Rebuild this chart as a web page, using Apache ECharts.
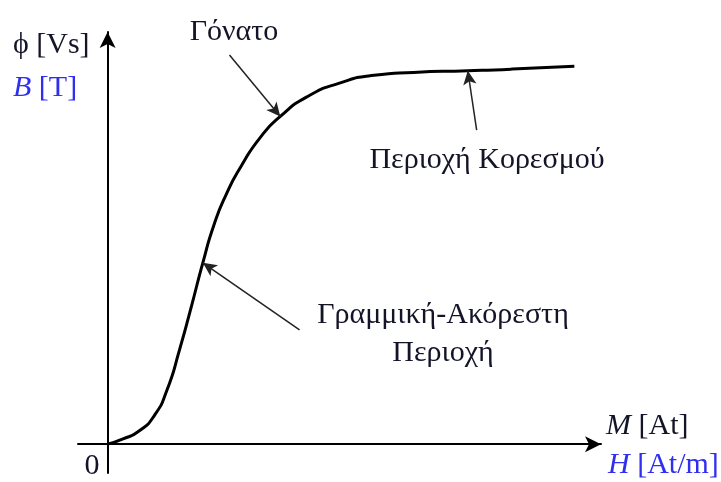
<!DOCTYPE html>
<html>
<head>
<meta charset="utf-8">
<script src="https://cdn.jsdelivr.net/npm/echarts@6/dist/echarts.min.js"></script>
<style>
  html, body { margin: 0; padding: 0; background: #fff; }
  #chart { width: 721px; height: 482px; }
</style>
</head>
<body>
<div id="chart"></div>
<script>
// Magnetisation curve: field strength (x) against flux density (y), arbitrary units
const fieldH = [0, 3, 6.5, 9.5, 12, 14.6, 17, 19.3, 21.5, 24, 27, 31, 35, 40.3, 47, 54, 62, 73, 82, 94.6];
const fluxB  = [0, 1.2, 3.3, 7, 13, 23, 33.5, 44, 53, 60.5, 67.3, 74.5, 79.5, 84.2, 87.6, 89.5, 90.2, 90.6, 91.0, 91.7];

// Callout arrows: tail position and the index of the curve point each arrow points to
const calloutTails  = [[24.7, 94.4], [74.8, 76.2], [38.9, 27.7]];
const calloutPoints = [12, 17, 7];

const ink = '#141428';
const blue = '#2f2ff0';
const serif = '"Liberation Serif", "DejaVu Serif", serif';
const fs = 30;

const curve = fieldH.map((h, i) => [h, fluxB[i]]);

const calloutLines = calloutTails.map((t, k) => [
  { coord: t },
  { coord: curve[calloutPoints[k]] }
]);

const chart = echarts.init(document.getElementById('chart'), null, { renderer: 'canvas' });

function label(x, y, text, color, align) {
  return {
    type: 'text',
    x: x, y: y,
    style: {
      text: text,
      fill: color,
      font: fs + 'px ' + serif,
      textAlign: align || 'left',
      textVerticalAlign: 'middle',
      rich: {
        i: { fontStyle: 'italic', fontFamily: serif, fontSize: fs, fill: color }
      }
    }
  };
}

chart.setOption({
  animation: false,
  backgroundColor: '#fff',
  grid: { left: 78, right: 120, top: 32, bottom: 9, containLabel: false },
  xAxis: {
    type: 'value', min: -6, max: 100,
    axisLine: { onZero: true, symbol: ['none', 'arrow'], symbolSize: [12, 16], lineStyle: { color: '#000', width: 2 } },
    axisTick: { show: false }, axisLabel: { show: false }, splitLine: { show: false }
  },
  yAxis: {
    type: 'value', min: -7, max: 100,
    axisLine: { onZero: true, symbol: ['none', 'arrow'], symbolSize: [12, 16], lineStyle: { color: '#000', width: 2 } },
    axisTick: { show: false }, axisLabel: { show: false }, splitLine: { show: false }
  },
  series: [{
    type: 'line',
    data: curve,
    smooth: 0.6,
    showSymbol: false,
    lineStyle: { color: '#000', width: 3 },
    markLine: {
      silent: true,
      symbol: ['none', 'arrow'],
      symbolSize: [10, 14],
      label: { show: false },
      lineStyle: { color: '#222', width: 1.5, type: 'solid' },
      data: calloutLines
    }
  }],
  graphic: [
    label(13, 45, 'ϕ [Vs]', ink),
    label(13, 88, '{i|B} [T]', blue),
    label(606, 426, '{i|M} [At]', ink),
    label(608, 465, '{i|H} [At/m]', blue),
    label(92, 466, '0', ink, 'center'),
    label(234, 32, 'Γόνατο', ink, 'center'),
    label(487, 160, 'Περιοχή Κορεσμού', ink, 'center'),
    label(443, 315, 'Γραμμική-Ακόρεστη', ink, 'center'),
    label(443, 353, 'Περιοχή', ink, 'center')
  ]
});
</script>
</body>
</html>
